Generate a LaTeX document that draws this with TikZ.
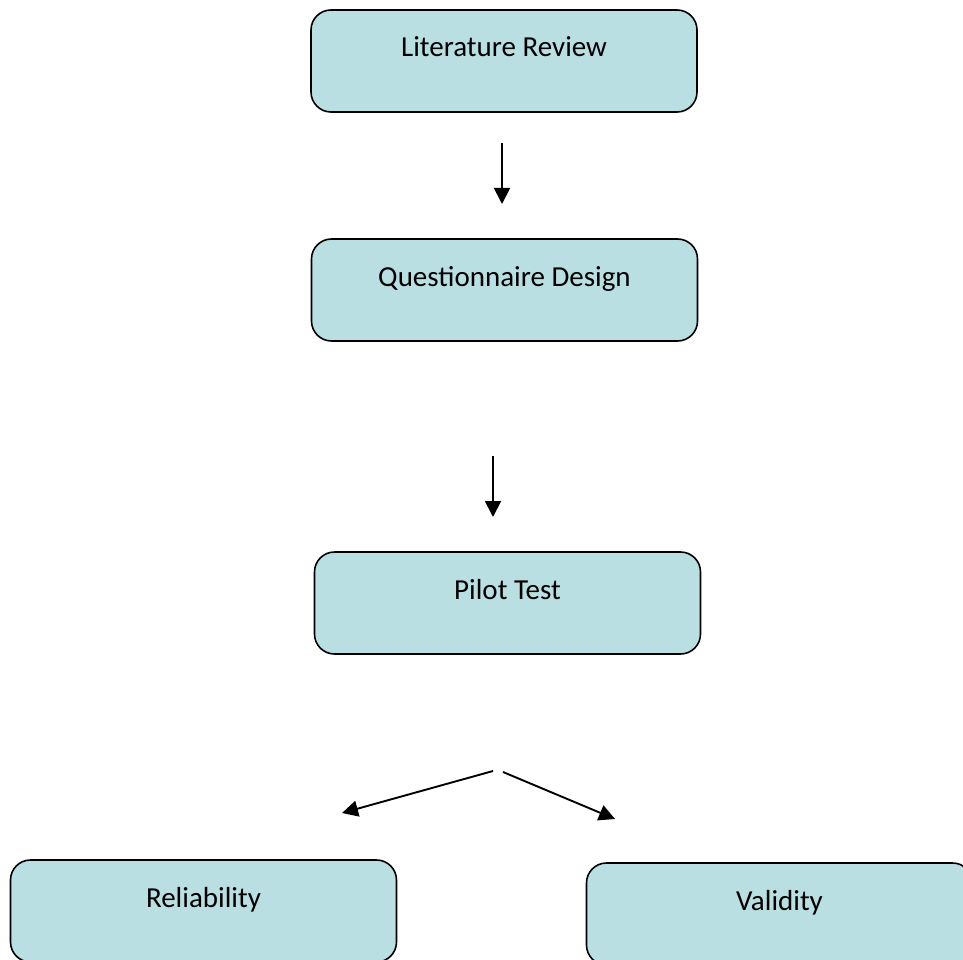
\documentclass[tikz,border=0pt]{standalone}
\usepackage{fontspec}
\setmainfont{Carlito}
\usetikzlibrary{arrows.meta}
\definecolor{boxfill}{RGB}{185,223,227}
\tikzset{
  stagebox/.style={draw=black, line width=1.6pt, fill=boxfill, rounded corners=20pt,
    minimum width=386pt, minimum height=102pt, inner ysep=0pt,
    text height=47pt, text depth=55pt, font=\fontsize{29}{34}\selectfont},
  flow/.style={line width=1.9pt, -{Triangle[length=16pt,width=16pt]}}
}
\begin{document}
\begin{tikzpicture}[x=1pt, y=-1pt]
  \useasboundingbox (0,0) rectangle (963,960);
  \clip (0,0) rectangle (963,960);
  % process stages
  \node[stagebox] (lit)   at (504,61)    {Literature Review};
  \node[stagebox] (quest) at (504.5,290) {Questionnaire Design};
  \node[stagebox] (pilot) at (507.5,603) {Pilot Test};
  \node[stagebox] (rel)   at (203.5,911) {Reliability};
  \node[stagebox] (val)   at (779.5,914) {Validity};
  % free-standing arrow ends
  \coordinate (a1s) at (502,143);
  \coordinate (a1e) at (502,204);
  \coordinate (a2s) at (493,456);
  \coordinate (a2e) at (493,517);
  \coordinate (a3s) at (493,771);
  \coordinate (a3e) at (342,813);
  \coordinate (a4s) at (503,772);
  \coordinate (a4e) at (615,819);
  \draw[flow] (a1s) -- (a1e);
  \draw[flow] (a2s) -- (a2e);
  \draw[flow] (a3s) -- (a3e);
  \draw[flow] (a4s) -- (a4e);
\end{tikzpicture}
\end{document}
